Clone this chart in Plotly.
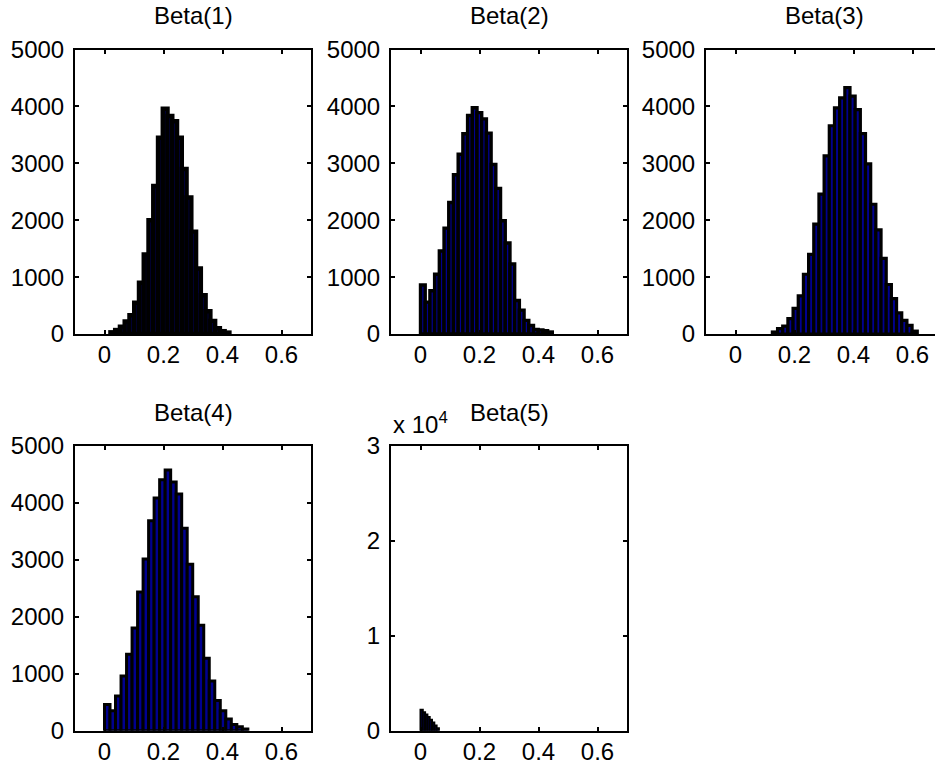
import numpy as np
import plotly.graph_objects as go

# ---- histogram data: first bin edge, bin width and counts per parameter ----
beta1_start, beta1_width = 0.020, 0.01614
beta1_counts = [30, 70, 130, 220, 330, 550, 900, 1400, 2000, 2600, 3450, 3960, 3830,
                3740, 3450, 2900, 2400, 1800, 1150, 680, 400, 230, 100, 50, 25]

beta2_start, beta2_width = 0.0, 0.01596
beta2_counts = [860, 560, 760, 1050, 1460, 1860, 2310, 2800, 3160, 3520, 3840, 3975, 3890,
                3780, 3530, 2980, 2560, 1990, 1600, 1230, 590, 420, 240, 150, 80, 70, 60, 35]

beta3_start, beta3_width = 0.125, 0.01754
beta3_counts = [35, 95, 140, 270, 450, 670, 1050, 1400, 1930, 2460, 3130, 3660, 3975, 4150,
                4330, 4180, 3945, 3520, 2990, 2280, 1830, 1330, 870, 620, 370, 240, 150, 50]

beta4_start, beta4_width = 0.0, 0.01869
beta4_counts = [460, 350, 610, 960, 1340, 1800, 2430, 3010, 3680, 4080, 4400, 4570, 4360,
                4150, 3550, 2920, 2350, 1850, 1270, 870, 530, 350, 205, 110, 70, 30]

beta5_start, beta5_width = 0.0, 0.0078
beta5_counts = [2200, 1950, 1700, 1450, 1150, 850, 550, 250]

titles = ["Beta(1)", "Beta(2)", "Beta(3)", "Beta(4)", "Beta(5)"]
x_tickvals = [0, 0.2, 0.4, 0.6]
x_ticktext = ["0", "0.2", "0.4", "0.6"]
y_tickvals = [0, 1000, 2000, 3000, 4000, 5000]
y5_tickvals = [0, 10000, 20000, 30000]
y5_ticktext = ["0", "1", "2", "3"]

# ---- page geometry (pixels) ----
W, H = 935, 773
FONT = dict(family="Liberation Sans, Arial, Helvetica, sans-serif", size=24, color="black")
col_left = [75, 391, 706]
axis_w = 236
row_top = [49.5, 445.5]
row_bot = [334, 730.7]
XMIN, XMAX = -0.1, 0.7

def xdom(c):
    l = col_left[c]
    r = min(l + axis_w, W)
    return [l / W, r / W]

def ydom(r):
    return [1 - row_bot[r] / H, 1 - row_top[r] / H]

panels = [
    (beta1_start, beta1_width, beta1_counts, 0, 0, 4.4),
    (beta2_start, beta2_width, beta2_counts, 0, 1, 3.4),
    (beta3_start, beta3_width, beta3_counts, 0, 2, 3.2),
    (beta4_start, beta4_width, beta4_counts, 1, 0, 3.0),
    (beta5_start, beta5_width, beta5_counts, 1, 1, 2.0),
]

fig = go.Figure()
layout = dict(width=W, height=H,
              margin=dict(l=0, r=0, t=0, b=0, pad=0, autoexpand=False),
              paper_bgcolor="white", plot_bgcolor="white", showlegend=False,
              font=FONT, annotations=[])

for i, (start, width, counts, r, c, lw) in enumerate(panels):
    k = i + 1
    sfx = "" if k == 1 else str(k)
    counts = np.asarray(counts, dtype=float)
    centers = start + width * (np.arange(len(counts)) + 0.5)
    fig.add_trace(go.Bar(
        x=centers, y=counts, width=width,
        marker=dict(color="#00008F", line=dict(color="black", width=lw)),
        xaxis="x" + sfx, yaxis="y" + sfx, hoverinfo="x+y",
    ))

    dom = xdom(c)
    xr_right = XMIN + (XMAX - XMIN) * (dom[1] * W - col_left[c]) / axis_w
    axis_common = dict(showgrid=False, zeroline=False, showline=True, linecolor="black",
                       linewidth=2, ticks="inside", ticklen=4, tickwidth=1.5,
                       tickcolor="black", tickfont=FONT, automargin=False)
    layout["xaxis" + sfx] = dict(domain=dom, range=[XMIN, xr_right], anchor="y" + sfx,
                                 tickmode="array", tickvals=x_tickvals, ticktext=x_ticktext,
                                 mirror="ticks", ticklabelstandoff=-2, **axis_common)
    if k == 5:
        yt = dict(range=[0, 30000], tickvals=y5_tickvals, ticktext=y5_ticktext)
    else:
        yt = dict(range=[0, 5000], tickvals=y_tickvals,
                  ticktext=[str(v) for v in y_tickvals])
    layout["yaxis" + sfx] = dict(domain=ydom(r), anchor="x" + sfx, tickmode="array",
                                 mirror=(False if c == 2 else "ticks"),
                                 ticklabelstandoff=4, **yt, **axis_common)

    layout["annotations"].append(dict(
        text=titles[i], xref="paper", yref="paper",
        x=(col_left[c] + axis_w / 2) / W, y=ydom(r)[1],
        xanchor="center", yanchor="bottom", yshift=18, showarrow=False, font=FONT))

# exponent label of the Beta(5) count axis
layout["annotations"].append(dict(
    text="x 10<sup>4</sup>", xref="paper", yref="paper",
    x=col_left[1] / W, y=ydom(1)[1], xanchor="left", yanchor="bottom",
    yshift=6, showarrow=False, font=FONT))

fig.update_layout(**layout)
fig.write_html("out.html")
